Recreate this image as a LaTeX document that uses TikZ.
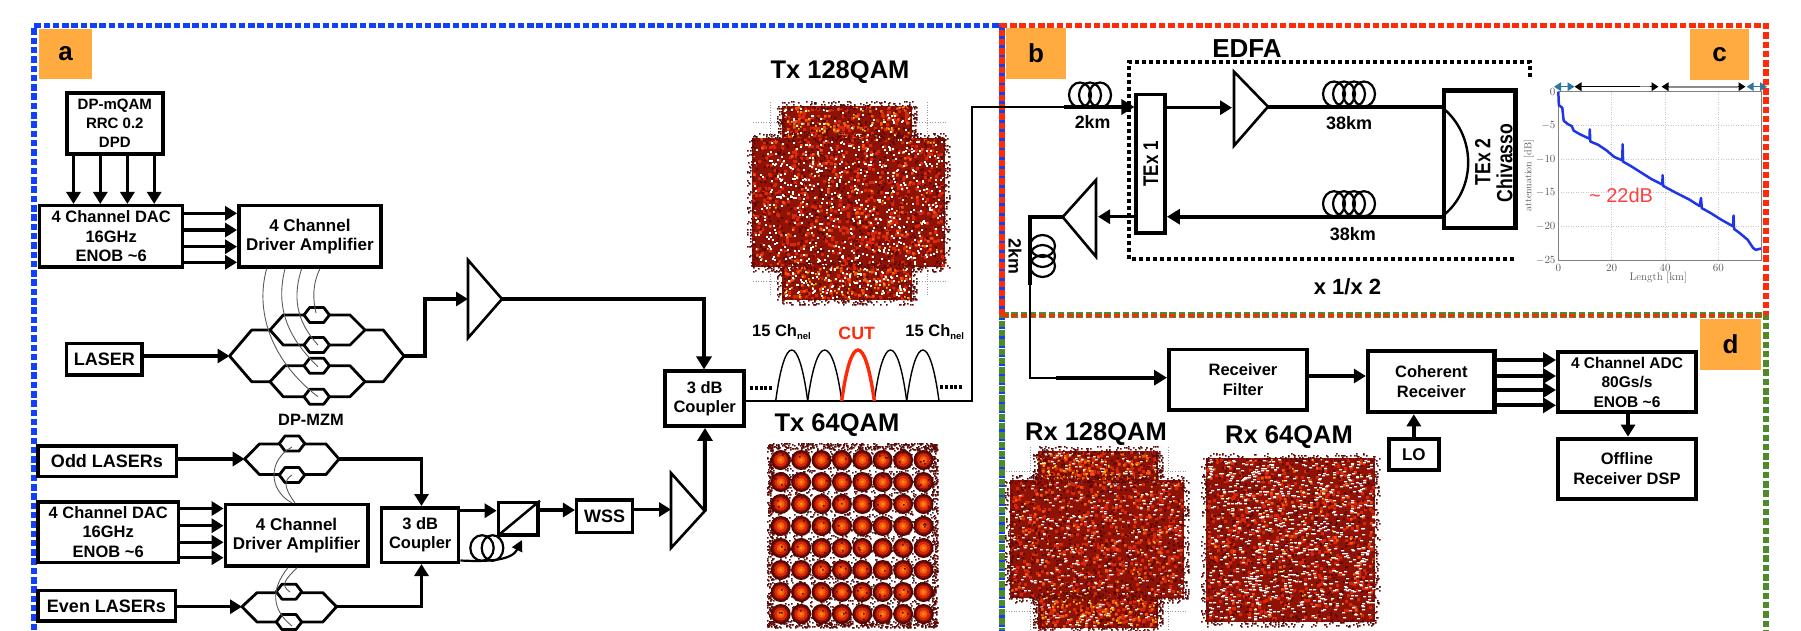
\documentclass[tikz,border=0pt]{standalone}
\usepackage{fontspec}
\usetikzlibrary{arrows.meta,calc}
\newfontfamily\hv{Liberation Sans}
\newcommand\hb[2]{\hv\bfseries\fontsize{#1}{#2}\selectfont}
\definecolor{fblue}{HTML}{1040F8}
\definecolor{fred}{HTML}{FF2A08}
\definecolor{fgreen}{HTML}{4F8A2A}
\definecolor{tagor}{HTML}{FFAB40}
\definecolor{cdark}{HTML}{5E0805}
\definecolor{cbase}{HTML}{8F1206}
\definecolor{cred}{HTML}{D8280A}
\definecolor{corange}{HTML}{F25A10}
\definecolor{plotb}{HTML}{1F35E8}
\definecolor{gaugeb}{HTML}{2E75A0}
\tikzset{
 frame/.style={line width=5.5pt,dash pattern=on 6.5pt off 2.8pt},
 tagbox/.style={fill=tagor,inner sep=0pt,text=black,font=\hb{26}{28}},
 bx/.style={draw,line width=3.5pt,fill=white,inner sep=0pt,align=center,font=\hb{16.5}{19.3}},
 arr/.style={line width=3.4pt,-{Triangle[length=12pt,width=14pt]}},
 thickarr/.style={line width=4pt,-{Triangle[length=13pt,width=15pt]}},
 wg/.style={line width=2.8pt,line join=round},
 ampl/.style={line width=2.6pt,fill=white,line join=miter},
 coilr/.style={line width=2.2pt},
 wire/.style={line width=0.9pt,black!65},
 lab/.style={inner sep=0pt,align=center,font=\hb{17.5}{19}},
 big/.style={inner sep=0pt,font=\hb{25.5}{28}},
 tick/.style={inner sep=0pt,text=black!65,font=\fontsize{10.5}{11}\selectfont},
 gauge/.style={line width=1.5pt,{Triangle[length=7pt,width=8.5pt]}-{Triangle[length=7pt,width=8.5pt]}},
 cdots/.style={line width=0.6pt,black!40,dotted},
}
\newcommand\specks[8]{\pgfmathtruncatemacro\Bt{#2/60+1}\foreach \b in {1,...,\Bt}{\fill[#1] \foreach \i in {1,...,60}{ ({random(#3,#4)},{random(#5,#6)}) rectangle ++(#7,#8) };}}
% x0 x1 y0 y1 white-factor white-w white-h
\newcommand\cloud[7]{%
 \fill[cbase] (#1,#3) rectangle (#2,#4);
 \pgfmathsetmacro\Ar{(#2-#1)*0.01*(#4-#3)}%
 \pgfmathtruncatemacro\Nr{\Ar*2.0+1}\pgfmathtruncatemacro\No{\Ar*0.35+1}%
 \pgfmathtruncatemacro\Nw{\Ar*#5+1}\pgfmathtruncatemacro\Nd{\Ar*2.4+1}\pgfmathtruncatemacro\Ny{\Ar*0.06+1}%
 \pgfmathtruncatemacro\Nh{(#4-#3)*0.7+1}\pgfmathtruncatemacro\Nv{(#2-#1)*0.7+1}%
 \specks{cred}{\Nr}{#1}{#2-3}{#3}{#4-3}{3}{3}
 \specks{cdark}{\Nd}{#1}{#2-2}{#3}{#4-2}{2}{2}
 \specks{corange}{\No}{#1}{#2-3}{#3}{#4-3}{2.5}{2.5}
 \specks{yellow!70!orange}{\Ny}{#1}{#2-2}{#3}{#4-2}{1.5}{1.5}
 \specks{white}{\Nw}{#1+1}{#2-3}{#3+1}{#4-3}{#6}{#7}
 \specks{cdark}{\Nh}{#1-5}{#1+2}{#3}{#4}{1.7}{1.7}
 \specks{cdark}{\Nh}{#2-2}{#2+4}{#3}{#4}{1.7}{1.7}
 \specks{cdark}{\Nv}{#1}{#2}{#3-5}{#3+2}{1.7}{1.7}
 \specks{cdark}{\Nv}{#1}{#2}{#4-2}{#4+4}{1.7}{1.7}
}
\newcommand\hexa[2]{\draw[wg,fill=white,shift={(#1,#2)}] (-12.7,0) -- (-7,-7.5) -- (7,-7.5) -- (12.7,0) -- (7,7.5) -- (-7,7.5) -- cycle;}
\newcommand\coilh[3]{\foreach \c in {#1}{\draw[coilr] (\c,#2) ellipse (#3 and 12.5);}}
\begin{document}
\begin{tikzpicture}[x=1pt,y=-1pt]
\useasboundingbox (0,0) rectangle (1801,630);
\pgfmathsetseed{4711}
% ---------- frames
\draw[frame,fblue] (34,630) -- (34,25.7) -- (1002,25.7) -- (1002,630);
\draw[frame,fgreen,dash phase=4pt] (1002,630) -- (1002,315);
\draw[frame,fgreen] (1002,315) -- (1766,315) -- (1766,630);
\draw[frame,fred] (1002,315) -- (1002,25.5) -- (1766,25.5) -- (1766,315);
\draw[line width=3pt,fred,dash pattern=on 6pt off 3.3pt] (1002,315) -- (1766,315);
% ---------- tags
\node[tagbox,minimum width=53,minimum height=50] (tagA) at (65.5,54) {a};
\node[tagbox,minimum width=60,minimum height=51] (tagB) at (1036,53.5) {b};
\node[tagbox,minimum width=59,minimum height=51] (tagC) at (1719.5,54.5) {c};
\node[tagbox,minimum width=61,minimum height=51] (tagD) at (1730.5,344.5) {d};
% ---------- transmitter boxes
\node[bx,font=\hb{15}{18.7},minimum width=96,minimum height=61] (dp) at (114.8,123.3) {DP-mQAM\\RRC 0.2\\DPD};
\node[bx,minimum width=143,minimum height=61.2] (dac) at (111.2,236.3) {4 Channel DAC\\16GHz\\ENOB \textasciitilde 6};
\node[bx,font=\hb{17}{19.3},minimum width=142.2,minimum height=61.2] (drv) at (309.9,236.3) {4 Channel\\Driver Amplifier};
\node[bx,font=\hb{18}{19},minimum width=75.2,minimum height=31.2] (laser) at (104.3,359.3) {LASER};
\node[bx,font=\hb{18}{19},minimum width=138.5,minimum height=30.5] (odd) at (107,461) {Odd LASERs};
\node[bx,minimum width=140.9,minimum height=60.5] (dacb) at (108.2,532) {4 Channel DAC\\16GHz\\ENOB \textasciitilde 6};
\node[bx,font=\hb{17}{19.3},minimum width=142.5,minimum height=61.2] (drvb) at (296.6,535.3) {4 Channel\\Driver Amplifier};
\node[bx,font=\hb{18}{19},minimum width=137.5,minimum height=30.8] (even) at (106.5,605.8) {Even LASERs};
\node[bx,minimum width=77,minimum height=54.5] (cpb) at (420.2,535) {3 dB\\Coupler};
\node[bx,minimum width=79,minimum height=55] (cpa) at (704.7,398.7) {3 dB\\Coupler};
\node[bx,minimum width=39.8,minimum height=32.5] (pbs) at (518.3,518.7) {};
\node[bx,font=\hb{18}{19},minimum width=56,minimum height=32.5] (wss) at (604.7,516) {WSS};
\draw[line width=2.5pt] (pbs.south west) -- (pbs.north east);
% ---------- connectors a
\foreach \x in {73.5,100.3,127.4,154.2}{\draw[arr] (\x,0 |- dp.south) -- (\x,0 |- dac.north);}
\foreach \y in {213.3,230,246.7,262.3}{\draw[arr] (dac.east |- 0,\y) -- (drv.west |- 0,\y);}
\foreach \y in {508.5,525.7,542.3,557.7}{\draw[arr] (dacb.east |- 0,\y) -- (drvb.west |- 0,\y);}
% MZM top
\coordinate (mzL) at (229.6,356);
\coordinate (mzR) at (404,356);
\draw[wg] (mzL) -- (251.7,330) -- (270,330) -- (283.3,315) -- (350,315) -- (365,330) -- (383.3,330) -- (mzR)
          -- (383.3,381.7) -- (365,381.7) -- (350,396.7) -- (283.3,396.7) -- (270,381.7) -- (251.7,381.7) -- cycle;
\draw[wg] (270,330) -- (283.3,345) -- (350,345) -- (365,330);
\draw[wg] (270,381.7) -- (285,365.7) -- (350,365.7) -- (365,381.7);
\hexa{316.7}{315}\hexa{316.7}{345}\hexa{316.7}{365.7}\hexa{316.7}{396.7}
\draw[wire] (320,0 |- drv.south) .. controls (312,285) and (313,300) .. (316,313);
\draw[wire] (301.7,0 |- drv.south) .. controls (293,295) and (295,320) .. (318,345);
\draw[wire] (285,0 |- drv.south) .. controls (276,305) and (285,335) .. (318,366.7);
\draw[wire] (266.7,0 |- drv.south) .. controls (255,310) and (270,360) .. (318,396.7);
\draw[arr] (laser.east |- mzL) -- (mzL);
\node[lab,font=\hb{16.4}{18}] (dpmzm) at (311,420) {DP-MZM};
% amp top
\coordinate (ampaIn) at (468,299);
\coordinate (ampaTip) at (502,299);
\draw[arr] (mzR) -- (425,356) -- (425,299) -- (ampaIn);
\draw[ampl] (468,260) -- (468,338) -- (ampaTip) -- cycle;
\draw[thickarr] (ampaTip) -- (704,299) -- (704,0 |- cpa.north);
% MZM odd
\coordinate (moL) at (244.7,459);\coordinate (moR) at (339,459);
\draw[wg] (moL) -- (259.4,444) -- (326,444) -- (moR) -- (326,474.5) -- (259.4,474.5) -- cycle;
\hexa{292}{443.5}\hexa{292}{475}
\draw[wire] (292,447) .. controls (268,460) and (268,490) .. (292,0 |- drvb.north);
\draw[wire] (292,475) .. controls (285,480) and (282,485) .. (295,0 |- drvb.north);
\draw[arr] (odd.east |- moL) -- (moL);
\draw[arr] (moR) -- (421.5,459) -- (421.5,0 |- cpb.north);
% MZM even
\coordinate (meL) at (242,606.7);\coordinate (meR) at (336.5,606.7);
\draw[wg] (meL) -- (257,592.7) -- (322.8,592.7) -- (meR) -- (322.8,622) -- (257,622) -- cycle;
\hexa{289}{591.7}\hexa{289}{622}
\draw[wire] (288,0 |- drvb.south) .. controls (270,590) and (272,610) .. (292,626);
\draw[wire] (297,0 |- drvb.south) .. controls (285,580) and (280,585) .. (290,592);
\draw[arr] (even.east |- meL) -- (meL);
\draw[arr] (meR) -- (421.5,606.7) -- (421.5,0 |- cpb.south);
% PBS and fibre
\draw[arr] (cpb.east |- 0,510.7) -- (pbs.west |- 0,510.7);
\draw[coilr] (482,548) ellipse (11.7 and 12.8);
\draw[coilr] (492.5,548) ellipse (10.8 and 12.8);
\draw[line width=2.2pt,-{Triangle[length=11pt,width=11pt]}] (cpb.east |- 0,560.5) .. controls (490,562) and (512,560) .. (522,540);
\draw[arr] (pbs.east |- 0,510) -- (wss.west |- 0,510);
% amp low
\coordinate (ampbIn) at (671,509.5);\coordinate (ampbTip) at (704.8,511);
\draw[arr] (wss.east |- 0,509.5) -- (ampbIn);
\draw[ampl] (671,473) -- (671,548) -- (ampbTip) -- cycle;
\draw[thickarr] (ampbTip) -- (705,0 |- cpa.south);
% ---------- spectrum
\coordinate (lineCorner) at (971.7,401);
\coordinate (lineTop) at (971.7,107);
\coordinate (fibIn) at (1064,107);
\draw[line width=2.2pt] (cpa.east |- 0,401) -- (lineCorner) -- (lineTop) -- (fibIn);
\foreach \a/\b in {775.7/807.7,807.7/841.7,874.3/906.7,906.7/939}{\draw[line width=1.4pt] (\a,401) .. controls ($(\a,333)+(9,0)$) and ($(\b,333)+(-9,0)$) .. (\b,401);}
\draw[line width=3.4pt,fred] (841.7,401) .. controls (851,333) and (865,333) .. (874.3,401);
\draw[line width=3.6pt,dash pattern=on 3pt off 1.8pt] (750,388) -- (773,388);
\draw[line width=3.6pt,dash pattern=on 3pt off 1.8pt] (940,387) -- (962,387);
\node[lab,font=\hb{16.5}{18}] (chL) at (781.7,332) {15 Ch\textsubscript{\fontsize{9.5}{10}\selectfont nel}};
\node[lab,font=\hb{16.5}{18}] (chR) at (935,332) {15 Ch\textsubscript{\fontsize{9.5}{10}\selectfont nel}};
\node[lab,font=\hb{17.8}{18},text=fred] (cut) at (856.7,333) {CUT};
\node[big] (t128) at (840,72) {Tx 128QAM};
\node[big] (t64) at (837,425) {Tx 64QAM};
\node[big] (r128) at (1096,434) {Rx 128QAM};
\node[big] (r64) at (1289,437) {Rx 64QAM};
% ---------- constellations
\foreach \y in {122,281}{\draw[cdots] (753,\y) -- (947,\y);}
\foreach \x in {770,927}{\draw[cdots] (\x,102) -- (\x,297);}
\cloud{782}{912}{106}{140}{1.0}{1.8}{1.8}
\cloud{752}{945}{138}{267}{2.0}{1.8}{1.8}
\cloud{782}{912}{266}{300}{1.8}{1.8}{1.8}
\foreach \y in {471,611}{\draw[cdots] (1006,\y) -- (1187,\y);}
\foreach \x in {1030,1168}{\draw[cdots] (\x,447) -- (\x,630);}
\cloud{1038}{1158}{451}{481}{1.3}{2.6}{1.3}
\cloud{1010}{1184}{480}{598}{1.5}{2.6}{1.3}
\cloud{1038}{1158}{597}{628}{1.3}{2.6}{1.3}
\cloud{1206}{1375}{458}{622}{3.0}{3}{1.3}
% Tx 64QAM grid
\specks{cdark}{1400}{769}{935}{444}{625}{1.7}{1.7}
\specks{black!80}{600}{769}{935}{444}{625}{1.5}{1.5}
\specks{cdark}{240}{767}{772}{444}{626}{1.7}{1.7}
\specks{cdark}{240}{932}{937}{444}{626}{1.7}{1.7}
\specks{cdark}{240}{768}{936}{443}{449}{1.7}{1.7}
\specks{cdark}{240}{768}{936}{621}{627}{1.7}{1.7}
\foreach \c in {0,...,7}{\foreach \r in {0,...,7}{
  \pgfmathsetmacro\px{780.7+20.4*\c}\pgfmathsetmacro\py{460+22*\r}
  \fill[cdark!80!black] (\px,\py) circle (10);
  \fill[cdark] (\px,\py) circle (9);
  \fill[cbase] (\px,\py) circle (7.8);
  \fill[cred] (\px,\py) circle (6.4);
  \fill[corange] (\px,\py) circle (4);
  \fill[orange!90!yellow] (\px,\py) circle (1.8);
}}
\specks{cdark}{250}{770}{934}{450}{622}{1.5}{1.5}
% ---------- section b
\coilh{1080,1090,1100}{95}{11}
\node[lab,font=\hb{17.8}{19}] (km2a) at (1092.6,122) {2km};
\node[bx,line width=3.5pt,minimum width=29,minimum height=138.8] (tex1) at (1150.7,163.8) {};
\node[lab,font=\hb{17}{18},rotate=90,yscale=1.25] (tex1t) at (tex1) {TEx 1};
\draw[thickarr] (fibIn) -- (tex1.west |- fibIn);
\draw[line width=3.5pt,dash pattern=on 3.5pt off 3.5pt] (1530,76.7) -- (1530,62) -- (1129,62) -- (1129,259) -- (1517,259);
\node[big,font=\hb{26}{28}] (edfa) at (1247,49) {EDFA};
\node[bx,line width=4.5pt,minimum width=71.5,minimum height=137.5] (tex2) at (1479.7,159) {};
\coordinate (ampcTip) at (1268,106.7);
\draw[arr,line width=3.5pt] (tex1.east |- 0,107.7) -- (1232,107.7);
\draw[ampl] (1234,71.7) -- (1234,145.7) -- (ampcTip) -- cycle;
\draw[line width=4pt] (ampcTip) -- (tex2.west |- ampcTip);
\coilh{1334,1344,1354,1364}{94}{11}
\node[lab,font=\hb{18}{19}] (km38a) at (1349,123) {38km};
\draw[line width=2.4pt] (tex2.west |- 0,107) .. controls (1477,135) and (1477,190) .. (tex2.west |- 0,216.7);
\node[lab,font=\hb{17.6}{19},rotate=90,yscale=1.25] (tex2a) at (1482.6,162) {TEx 2};
\node[lab,font=\hb{17.6}{19},rotate=90,yscale=1.25] (tex2b) at (1504.6,163) {Chivasso};
\draw[thickarr] (tex2.west |- 0,216.7) -- (tex1.east |- 0,216.7);
\coilh{1334,1344,1354,1364}{203.7}{11}
\node[lab,font=\hb{18}{19}] (km38b) at (1352.8,234) {38km};
\coordinate (ampdTip) at (1062.7,217);
\coordinate (ampdIn) at (1098,216.7);
\draw[arr] (tex1.west |- ampdIn) -- (ampdIn);
\draw[ampl] (1096,180) -- (1096,256.7) -- (ampdTip) -- cycle;
\coordinate (vcorner) at (1029.7,217);
\coordinate (vmid) at (1029.7,285);
\coordinate (vlow) at (1029.7,377.7);
\coordinate (hmid) at (1056,377.7);
\draw[line width=4pt] (ampdTip) -- (vcorner) -- (vmid);
\foreach \c in {246,256,266}{\draw[coilr] (1042.5,\c) ellipse (12.5 and 11);}
\node[lab,font=\hb{17.8}{19},rotate=-90] (km2b) at (1015,256.7) {2km};
\node[lab,font=\hb{22}{24}] (times) at (1347.5,286.7) {x 1/x 2};
% ---------- section d
\node[bx,minimum width=138.3,minimum height=60.5] (filter) at (1237.9,379.7) {};
\node[lab,font=\hb{16.5}{20}] (filtert) at (1243,380) {Receiver\\Filter};
\node[bx,line width=4.5pt,font=\hb{16.5}{20},minimum width=126.4,minimum height=60.8] (coh) at (1431.3,381.6) {Coherent\\Receiver};
\node[bx,line width=4pt,font=\hb{15.5}{19.5},minimum width=138,minimum height=60.3] (adc) at (1627,382.1) {4 Channel ADC\\80Gs/s\\ENOB \textasciitilde 6};
\node[bx,line width=4pt,font=\hb{16.5}{20},minimum width=138,minimum height=60.3] (dsp) at (1627,468.8) {Offline\\Receiver DSP};
\node[bx,line width=4pt,font=\hb{17}{19},minimum width=49.7,minimum height=31.6] (lo) at (1413.8,454.5) {LO};
\draw[line width=2.2pt] (vmid) -- (vlow) -- (hmid);
\draw[thickarr] (hmid) -- (filter.west |- hmid);
\draw[arr] (filter.east |- 0,376) -- (coh.west |- 0,376);
\foreach \y in {360,376,390,405.3}{\draw[thickarr] (coh.east |- 0,\y) -- (adc.west |- 0,\y);}
\draw[arr,line width=3.5pt] (adc.south -| 1628,0) -- (dsp.north -| 1628,0);
\draw[arr,line width=3.5pt] (lo.north) -- (lo.north |- coh.south);
% ---------- chart
\begin{scope}[shift={(1558.3pt,-91.7pt)},x=2.667pt,y=6.73pt]
\foreach \v in {20,40,60}{\draw[black!22,line width=0.5pt,dotted] (\v,0) -- (\v,-25);}
\foreach \v in {-5,-10,-15,-20}{\draw[black!22,line width=0.5pt,dotted] (0,\v) -- (76.2,\v);}
\draw[black!50,line width=0.8pt] (0,0) rectangle (76.2,-25);
\foreach \v in {0,-5,-10,-15,-20,-25}{\node[tick,anchor=east] (ty\v) at (-1,\v) {$\v$};}
\foreach \v in {0,20,40,60}{\node[tick,anchor=north] (tx\v) at (\v,-25.6) {$\v$};}
\node[tick,font=\fontsize{11}{12}\selectfont] (xlab) at (37.5,-27.7) {Length [km]};
\node[tick,rotate=90,font=\fontsize{10}{11}\selectfont] (ylab) at (-11,-12.5) {attenuation [dB]};
\draw[plotb,line width=2.5pt,line join=round] plot coordinates {(0,0) (0.2,-2) (1.5,-2.4) (2,-4.3) (3.5,-4.8) (5,-5.1) (5.8,-5.8) (8,-6.3) (11.7,-7) (11.8,-5.6) (12,-7.4) (15,-7.9) (18,-8.7) (21,-9.7) (24,-10.2) (24.1,-7.8) (24.3,-10.4) (27,-11) (31,-12) (35,-13) (39,-13.8) (39.1,-12.4) (39.3,-14) (44,-15) (49,-16) (53,-17) (53.5,-15.8) (53.8,-17.3) (57,-18) (61,-19) (65.5,-20) (65.7,-18.4) (65.9,-20.4) (68,-21) (71,-22) (73,-23.2) (74,-23.5) (76,-23.3)};
\end{scope}
\node[inner sep=0pt,text=red!75!white,font=\hv\fontsize{20}{22}\selectfont] (db22) at (1621,195) {\textasciitilde{} 22dB};
\coordinate (g0) at (1554,86.7);\coordinate (g1) at (1574.5,86.7);\coordinate (g2) at (1658.5,86.7);
\coordinate (g3) at (1661.5,86.7);\coordinate (g4) at (1745.5,86.7);\coordinate (g5) at (1746.7,86.7);\coordinate (g6) at (1767,86.7);
\draw[gauge,gaugeb] (g0) -- (g1);
\draw[gauge,black] (g1) -- (g2);
\draw[black!45,line width=1.5pt] (1640,86.7) -- (1650,86.7);
\draw[gauge,black] (g3) -- (g4);
\draw[black!45,line width=1.8pt] (1669,86.7) -- (1738,86.7);
\draw[gauge,gaugeb] (g5) -- (g6);
\end{tikzpicture}
\end{document}
